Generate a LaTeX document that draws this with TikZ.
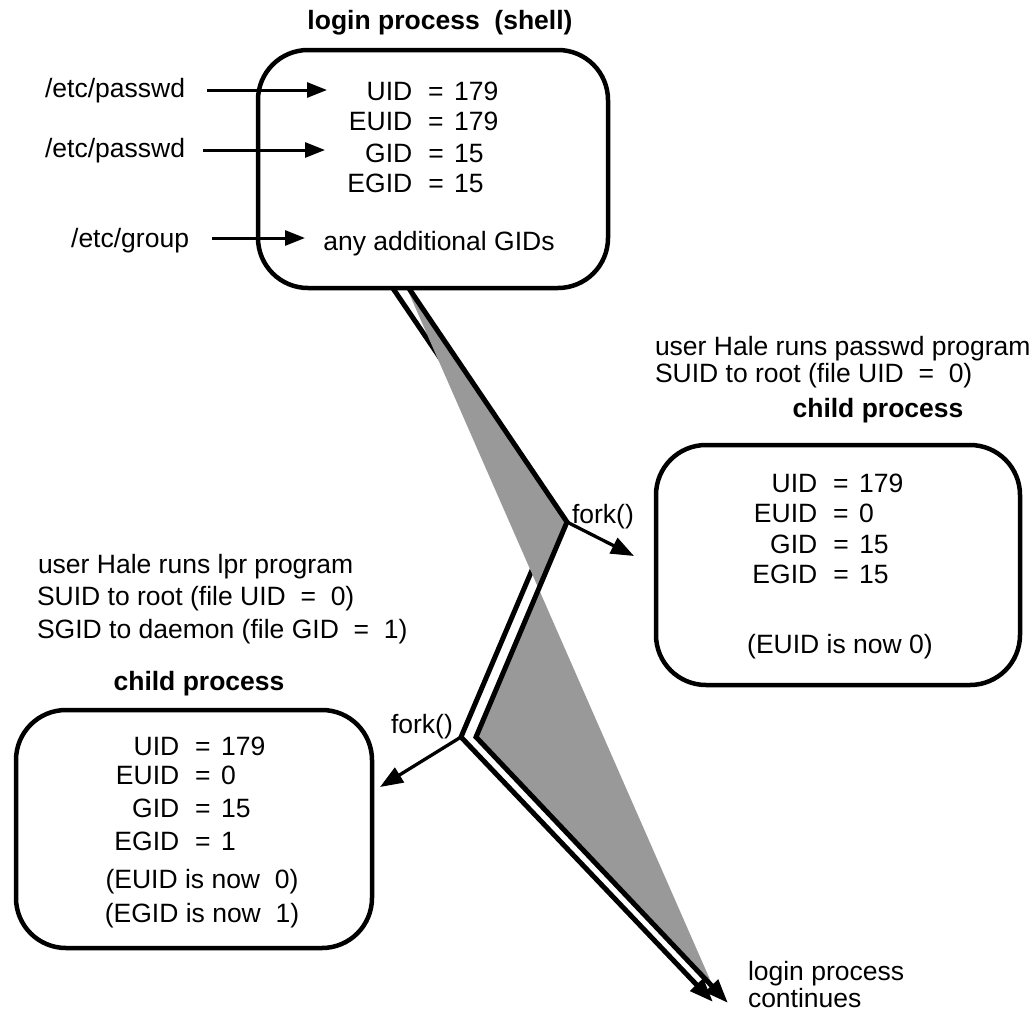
\documentclass[tikz,border=0pt]{standalone}
\usepackage{fontspec}
\setmainfont{Liberation Sans}
\usetikzlibrary{arrows.meta}
\newcommand\eqrow[2]{\llap{#1\hspace{16pt}}=\rlap{\hspace{10.5pt}#2}}
\begin{document}
\begin{tikzpicture}[x=1pt,y=-1pt,
  txt/.style={font=\fontsize{26.5}{30}\selectfont, inner sep=0pt, outer sep=0pt, anchor=base},
  ttl/.style={txt, font=\fontsize{26.5}{30}\selectfont\bfseries},
  lft/.style={txt, anchor=base west},
  rgt/.style={txt, anchor=base east},
  proc/.style={draw, line width=4.5pt, rounded corners=50pt, fill=white, inner sep=0pt},
  feed/.style={line width=3pt, -{Triangle[length=20pt,width=15pt]}},
  forkarr/.style={line width=3.3pt, -{Triangle[length=23pt,width=17pt]}},
  band/.style={line width=5pt, -{Triangle[length=24pt,width=17pt]}},
  shade/.style={fill=black!40}]
\useasboundingbox (0,0) rectangle (1036,1012);

% ---- the forking ribbon ----
\coordinate (l0) at (390,284);
\coordinate (l1) at (552,523);
\coordinate (l2) at (461,737);
\coordinate (l3) at (713,1002);
\coordinate (r0) at (406,284);
\coordinate (r1) at (567,522);
\coordinate (r2) at (476,737);
\coordinate (r3) at (728,1003);
\coordinate (g0) at (405,284);
\coordinate (g1) at (715,991);
\draw[band] (l0) -- (l1) -- (l2) -- (l3);
\fill[shade] (g0) -- (r1) -- (r2) -- (g1) -- cycle;
\draw[band] (r0) -- (r1) -- (r2) -- (r3);

% ---- boxes ----
\node[proc, minimum width=350pt, minimum height=238pt] (login) at (433,169) {};
\node[proc, minimum width=364pt, minimum height=240pt] (childR) at (838,565) {};
\node[proc, minimum width=356pt, minimum height=238pt] (childL) at (194,829) {};

% ---- login process ----
\node[ttl] (ttlLogin) at (440,29) {login process\ \ (shell)};
\node[rgt] (pw1) at (185,97.5) {/etc/passwd};
\node[rgt] (pw2) at (185,157) {/etc/passwd};
\node[rgt] (grp) at (189,247) {/etc/group};
\node[txt] (t1) at (436,100) {\eqrow{UID}{179}};
\node[txt] (t2) at (436,130) {\eqrow{EUID}{179}};
\node[txt] (t3) at (436,162) {\eqrow{GID}{15}};
\node[txt] (t4) at (436,192) {\eqrow{EGID}{15}};
\node[txt] (t5) at (439,250) {any additional GIDs};
\coordinate (a1) at (327,90);
\coordinate (a2) at (325,150);
\coordinate (a3) at (305,238);
\draw[feed] ([xshift=22pt]pw1.east |- a1) -- (a1);
\draw[feed] ([xshift=18pt]pw2.east |- a2) -- (a2);
\draw[feed] ([xshift=23pt]grp.east |- a3) -- (a3);

% ---- passwd child ----
\node[lft] (noteR1) at (655,355) {user Hale runs passwd program};
\node[lft] (noteR2) at (655,382) {SUID to root (file UID\ \ =\ \ 0)};
\node[ttl] (ttlR) at (878,417) {child process};
\node[txt] (u1) at (841,492) {\eqrow{UID}{179}};
\node[txt] (u2) at (841,522) {\eqrow{EUID}{0}};
\node[txt] (u3) at (841,553) {\eqrow{GID}{15}};
\node[txt] (u4) at (841,583) {\eqrow{EGID}{15}};
\node[txt] (u5) at (840,653) {(EUID is now 0)};
\node[lft] (forkR) at (572,523) {fork()};
\coordinate (fk1) at (634,556);
\draw[forkarr] (r1) -- (fk1);

% ---- lpr child ----
\node[lft] (noteL1) at (38,573) {user Hale runs lpr program};
\node[lft] (noteL2) at (37,605) {SUID to root (file UID\ \ =\ \ 0)};
\node[lft] (noteL3) at (37,638) {SGID to daemon (file GID\ \ =\ \ 1)};
\node[ttl] (ttlL) at (199,690) {child process};
\node[txt] (v1) at (203,755) {\eqrow{UID}{179}};
\node[txt] (v2) at (203,784) {\eqrow{EUID}{0}};
\node[txt] (v3) at (203,817) {\eqrow{GID}{15}};
\node[txt] (v4) at (203,850) {\eqrow{EGID}{1}};
\node[txt] (v5) at (202,888) {(EUID is now\ \ 0)};
\node[txt] (v6) at (202,922) {(EGID is now\ \ 1)};
\node[lft] (forkL) at (391,733) {fork()};
\coordinate (fk2) at (380,787);
\draw[forkarr] (l2) -- (fk2);

% ---- end ----
\node[lft] (cont) at (748,1007) {\begin{tabular}[b]{@{}l@{}}login process\\[-3pt]continues\end{tabular}};
\end{tikzpicture}
\end{document}
